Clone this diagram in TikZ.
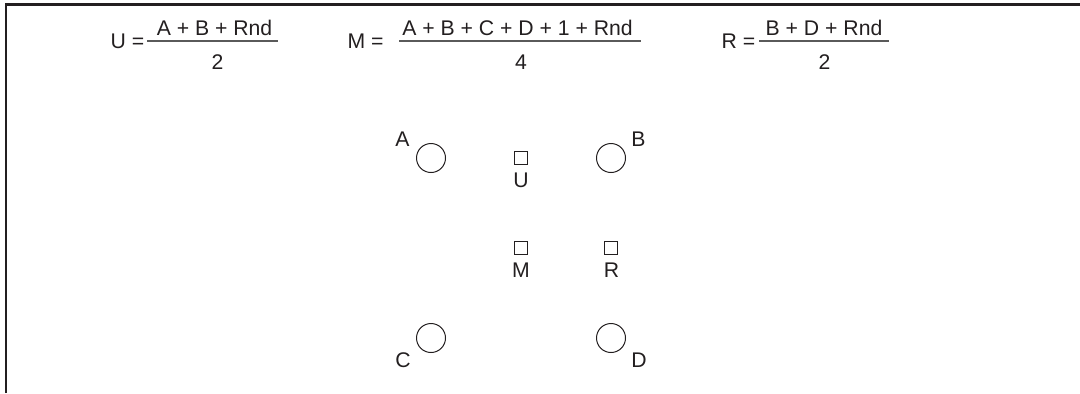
\documentclass[tikz,border=0pt]{standalone}
\usepackage{fontspec}
\setmainfont{Liberation Sans}
\definecolor{ink}{HTML}{231F20}
\definecolor{rule}{HTML}{5A5A5A}
\begin{document}
\begin{tikzpicture}[x=0.5pt,y=-0.5pt,
  txt/.style={inner sep=0pt, anchor=base, text=ink, font=\fontsize{10.6}{12.5}\selectfont},
  pixel/.style={circle, draw=ink, line width=0.5pt, minimum size=14.5pt, inner sep=0pt},
  sample/.style={rectangle, draw=ink, line width=0.5pt, minimum size=6.5pt, inner sep=0pt},
  fracbar/.style={draw=rule, line width=0.6pt},
  frameline/.style={draw=ink, line width=1.15pt}]
\useasboundingbox (0,0) rectangle (1080,393);

% frame edges along top and left
\draw[frameline] (6,393) -- (6,4.5) -- (1080,4.5);

% U = (A + B + Rnd)/2
\node[txt] (ueq) at (127.5,48) {U =};
\node[txt] (unum) at (214.5,35) {A + B + Rnd};
\coordinate (ul) at (147,41);
\coordinate (ur) at (278,41);
\draw[fracbar] (ul) -- (ur);
\node[txt] (uden) at (217.5,69) {2};

% M = (A + B + C + D + 1 + Rnd)/4
\node[txt] (meq) at (365.5,48) {M =};
\node[txt] (mnum) at (517.5,35) {A + B + C + D + 1 + Rnd};
\coordinate (ml) at (399,41);
\coordinate (mr) at (641,41);
\draw[fracbar] (ml) -- (mr);
\node[txt] (mden) at (521,69) {4};

% R = (B + D + Rnd)/2
\node[txt] (req) at (738.5,48) {R =};
\node[txt] (rnum) at (824,35) {B + D + Rnd};
\coordinate (rl) at (759,41);
\coordinate (rr) at (889,41);
\draw[fracbar] (rl) -- (rr);
\node[txt] (rden) at (824.5,69) {2};

% integer pixels
\node[pixel] (A) at (431,158) {};
\node[pixel] (B) at (611,158) {};
\node[pixel] (C) at (431,338) {};
\node[pixel] (D) at (611,338) {};
\node[txt] (Alab) at (402.5,146) {A};
\node[txt] (Blab) at (638.5,146) {B};
\node[txt] (Clab) at (403,367) {C};
\node[txt] (Dlab) at (639,367) {D};

% interpolated samples
\node[sample] (U) at (521,158) {};
\node[sample] (M) at (521,248) {};
\node[sample] (R) at (611,248) {};
\node[txt] (Ulab) at (521,187) {U};
\node[txt] (Mlab) at (521,277) {M};
\node[txt] (Rlab) at (611.5,277) {R};
\end{tikzpicture}
\end{document}
